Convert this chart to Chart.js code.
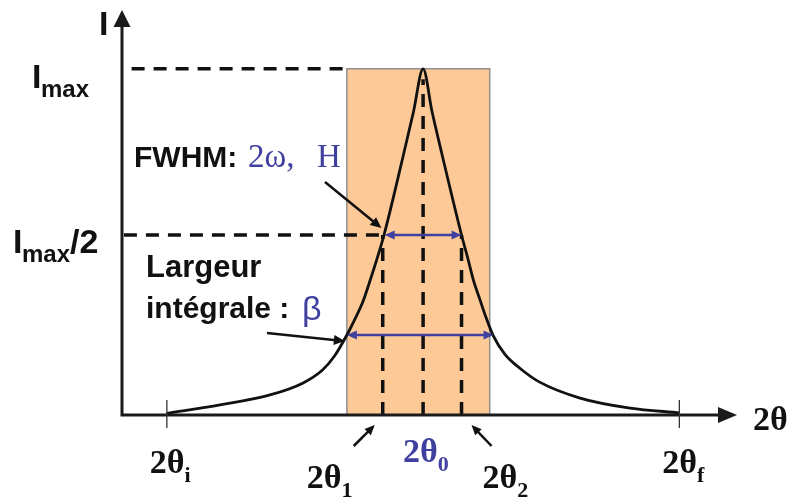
<!DOCTYPE html>
<html>
<head>
<meta charset="utf-8">
<script src="https://cdn.jsdelivr.net/npm/chart.js@4.4.1/dist/chart.umd.min.js"></script>
<style>
  html, body { margin: 0; padding: 0; background: #fff; }
  #wrap { width: 795px; height: 497px; position: relative; }
</style>
</head>
<body>
<div id="wrap"><canvas id="peakChart"></canvas></div>
<script>
// --- data (x: 2θ in arbitrary units, y: % of Imax) ---
const twoTheta  = [10, 18.3, 26.1, 31.2, 34.3, 36.2, 38.1, 39.3, 40.6, 41.8, 42.9, 43.9, 47.0, 48.5, 50,
                   51.4, 52.9, 56.0, 57.0, 57.9, 58.9, 59.8, 60.9, 62.75, 65.25, 68.2, 74.5, 82.3, 90.1];
const intensity = [0.5, 2.9, 5.8, 9.2, 13.0, 17.1, 23.1, 27.5, 32.7, 39.3, 45.7, 52.0, 75.7, 87.6, 100,
                   87.6, 75.7, 52.0, 45.1, 38.7, 33.2, 28.3, 23.1, 17.6, 13.3, 9.5, 4.9, 2.0, 0.6];

const peakPos = [43.7, 50, 56.0];          // 2θ1, 2θ0, 2θ2
const rangeLimits = [10, 90];              // 2θi, 2θf
const levels = [100, 52, 23.1];            // Imax, Imax/2, level of integral width
const betaSpan = [38.1, 61.0];             // integral width arrow
const boxSpan = [38.1, 60.4];              // shaded area
const xRange = [3, 99];
const yRange = [0, 117];

const ink = '#111111';
const blue = '#4040a0';
const sans = '"Liberation Sans", Arial, sans-serif';
const serif = '"Liberation Serif", "Times New Roman", serif';

// --- drawing helpers ---
function head(ctx, x1, y1, x2, y2, len, half, color) {
    const a = Math.atan2(y2 - y1, x2 - x1);
    ctx.save();
    ctx.fillStyle = color;
    ctx.translate(x2, y2);
    ctx.rotate(a);
    ctx.beginPath();
    ctx.moveTo(0, 0);
    ctx.lineTo(-len, -half);
    ctx.lineTo(-len, half);
    ctx.closePath();
    ctx.fill();
    ctx.restore();
}

function arrow(ctx, x1, y1, x2, y2, color, width, len, half, both) {
    const a = Math.atan2(y2 - y1, x2 - x1);
    const dx = Math.cos(a) * len * 0.8, dy = Math.sin(a) * len * 0.8;
    ctx.save();
    ctx.strokeStyle = color;
    ctx.lineWidth = width;
    ctx.beginPath();
    ctx.moveTo(both ? x1 + dx : x1, both ? y1 + dy : y1);
    ctx.lineTo(x2 - dx, y2 - dy);
    ctx.stroke();
    ctx.restore();
    head(ctx, x1, y1, x2, y2, len, half, color);
    if (both) head(ctx, x2, y2, x1, y1, len, half, color);
}

function txt(ctx, s, x, y, font, color) {
    ctx.font = font;
    ctx.fillStyle = color;
    ctx.textAlign = 'left';
    ctx.textBaseline = 'alphabetic';
    ctx.fillText(s, x, y);
    return ctx.measureText(s).width;
}

function thetaLabel(ctx, x, y, sub, color) {
    const w = txt(ctx, '2θ', x, y, 'bold 34px ' + serif, color);
    txt(ctx, sub, x + w, y + 9, 'bold 22px ' + serif, color);
}

// --- axes, arrows and texts ---
const decorations = {
    id: 'decorations',
    afterDatasetsDraw(chart) {
        const ctx = chart.ctx;
        const xs = chart.scales.x, ys = chart.scales.y;
        const a = chart.chartArea;
        const x0 = a.left, y0 = ys.getPixelForValue(0);

        // axes
        ctx.save();
        ctx.strokeStyle = '#1a1a1a';
        ctx.lineWidth = 3;
        ctx.beginPath();
        ctx.moveTo(x0, y0 + 1.5);
        ctx.lineTo(x0, a.top + 14);
        ctx.moveTo(x0 - 1.5, y0);
        ctx.lineTo(a.right - 14, y0);
        ctx.stroke();
        ctx.restore();
        head(ctx, x0, y0, x0, a.top, 17, 8.5, '#1a1a1a');
        head(ctx, x0, y0, a.right, y0, 19, 8, '#1a1a1a');

        // range ticks
        ctx.save();
        ctx.strokeStyle = '#333';
        ctx.lineWidth = 1.3;
        rangeLimits.forEach(v => {
            const px = xs.getPixelForValue(v);
            ctx.beginPath();
            ctx.moveTo(px, y0 - 15);
            ctx.lineTo(px, y0 + 13);
            ctx.stroke();
        });
        ctx.restore();

        const p1 = xs.getPixelForValue(peakPos[0]);
        const p0 = xs.getPixelForValue(peakPos[1]);
        const p2 = xs.getPixelForValue(peakPos[2]);
        const yMax = ys.getPixelForValue(levels[0]);
        const yHalf = ys.getPixelForValue(levels[1]);
        const yBeta = ys.getPixelForValue(levels[2]);

        // blue width arrows
        arrow(ctx, xs.getPixelForValue(44.0), yHalf, p2, yHalf, blue, 2.5, 10, 4.5, true);
        arrow(ctx, xs.getPixelForValue(betaSpan[0]), yBeta, xs.getPixelForValue(betaSpan[1]), yBeta, blue, 2.5, 10, 4.5, true);

        // black pointer arrows
        arrow(ctx, 325, 182, xs.getPixelForValue(43.5), yHalf - 7, ink, 2.5, 11, 5);
        arrow(ctx, 267, 333, xs.getPixelForValue(betaSpan[0]) - 2, yBeta + 6, ink, 2.5, 11, 5);
        arrow(ctx, p1 - 29, y0 + 31, p1 - 8, y0 + 10, ink, 2.5, 10, 4.5);
        arrow(ctx, p2 + 30, y0 + 31, p2 + 10, y0 + 10, ink, 2.5, 10, 4.5);

        // left labels
        const bigI = 'bold 34px ' + sans, subF = 'bold 24px ' + sans;
        txt(ctx, 'I', x0 - 23, a.top + 25, bigI, ink);
        txt(ctx, 'I', 32, yMax + 19, bigI, ink);
        txt(ctx, 'max', 41, yMax + 28, subF, ink);
        txt(ctx, 'I', 13, yHalf + 18, bigI, ink);
        const wm = txt(ctx, 'max', 22, yHalf + 27, subF, ink);
        txt(ctx, '/2', 22 + wm, yHalf + 18, bigI, ink);

        // FWHM
        txt(ctx, 'FWHM:', 134, 167, 'bold 30px ' + sans, ink);
        txt(ctx, '2ω,', 248, 167, '33px ' + serif, blue);
        txt(ctx, 'H', 317, 167, '33px ' + serif, blue);

        // integral width
        txt(ctx, 'Largeur', 146, 277, 'bold 31px ' + sans, ink);
        txt(ctx, 'intégrale :', 146, 318, 'bold 30px ' + sans, ink);
        txt(ctx, 'β', 302, 320, '34px ' + sans, blue);

        // 2θ labels
        thetaLabel(ctx, xs.getPixelForValue(rangeLimits[0]) - 17, y0 + 58, 'i', ink);
        thetaLabel(ctx, xs.getPixelForValue(rangeLimits[1]) - 17, y0 + 58, 'f', ink);
        thetaLabel(ctx, p1 - 76, y0 + 73, '1', ink);
        thetaLabel(ctx, p2 + 21, y0 + 73, '2', ink);
        thetaLabel(ctx, p0 - 20, y0 + 47, '0', blue);
        txt(ctx, '2θ', a.right + 16, y0 + 15, 'bold 34px ' + serif, ink);
    }
};

// --- datasets ---
const peakCurve = twoTheta.map((x, i) => ({ x: x, y: intensity[i] }));

const dashed = (pts) => ({
    data: pts,
    showLine: true,
    borderColor: ink,
    borderWidth: 3.5,
    borderDash: [13, 9],
    pointRadius: 0,
    fill: false,
    order: 5
});

new Chart(document.getElementById('peakChart'), {
    type: 'scatter',
    data: {
        datasets: [
            {
                data: peakCurve,
                showLine: true,
                borderColor: ink,
                borderWidth: 2.8,
                pointRadius: 0,
                cubicInterpolationMode: 'monotone',
                fill: false,
                order: 0
            },
            dashed([{ x: 4.5, y: levels[0] }, { x: boxSpan[0], y: levels[0] }]),
            dashed([{ x: 3.3, y: levels[1] }, { x: 44.0, y: levels[1] }]),
            dashed([{ x: peakPos[0], y: 0 }, { x: peakPos[0], y: levels[1] }]),
            dashed([{ x: peakPos[1], y: 0 }, { x: peakPos[1], y: levels[0] - 3 }]),
            dashed([{ x: peakPos[2], y: 0 }, { x: peakPos[2], y: levels[1] }]),
            {
                data: [
                    { x: boxSpan[0], y: 0 }, { x: boxSpan[0], y: levels[0] },
                    { x: boxSpan[1], y: levels[0] }, { x: boxSpan[1], y: 0 }
                ],
                showLine: true,
                borderColor: '#8f8f8f',
                borderWidth: 1.5,
                backgroundColor: '#fdca97',
                pointRadius: 0,
                fill: 'origin',
                order: 10
            }
        ]
    },
    options: {
        responsive: true,
        maintainAspectRatio: false,
        animation: false,
        layout: { padding: { left: 122, right: 58, top: 10, bottom: 82 } },
        plugins: { legend: { display: false }, tooltip: { enabled: false } },
        scales: {
            x: { type: 'linear', min: xRange[0], max: xRange[1], display: false },
            y: { type: 'linear', min: yRange[0], max: yRange[1], display: false }
        }
    },
    plugins: [decorations]
});
</script>
</body>
</html>
